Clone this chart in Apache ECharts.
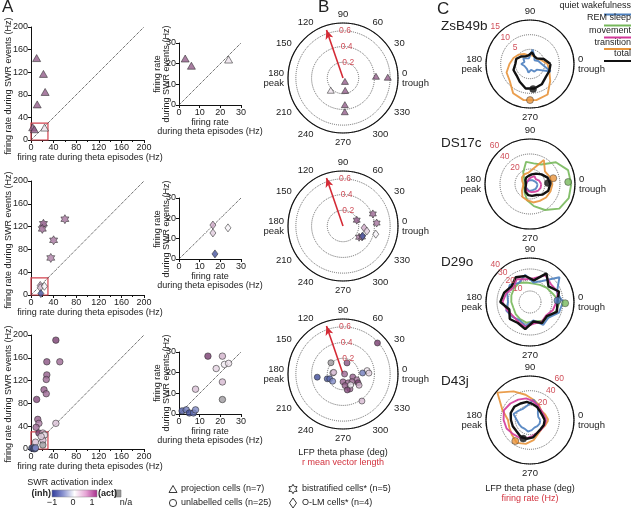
<!DOCTYPE html>
<html><head><meta charset="utf-8">
<script src="https://cdn.jsdelivr.net/npm/echarts@6/dist/echarts.min.js"></script>
<style>html,body{margin:0;padding:0;background:#fff}#c{width:632px;height:510px}</style>
</head><body><div id="c"></div>
<script>
// ---------------- DATA ----------------
// Panel A/B : projection cells (triangles)
const projTheta = [10, 22, 25, 11, 3, 6, 24];
const projSWR   = [145, 117, 85, 63, 22.5, 19, 22];
const projAct   = [0.8, 0.8, 0.8, 0.8, 0.8, 0.8, 0.1];
const projR     = [0.05, 0.16, 0.34, 0.43, 0.42, 0.57, 0.22];
const projPhase = [300, 280, 274, 273, 3, 1, 225];
// bistratified cells (stars)
const bisTheta = [22, 20, 60, 40, 35];
const bisSWR   = [125, 116, 133, 96, 65];
const bisAct   = [0.85, 0.75, 0.7, 0.7, 0.65];
const bisR     = [0.19, 0.41, 0.43, 0.25, 0.28];
const bisPhase = [23, 22, 5, 325, 330];
// O-LM cells (diamonds)
const olmTheta = [16.4, 16.4, 23.7, 17.4];
const olmSWR   = [16.7, 12.8, 15.3, 2.5];
const olmAct   = [0.45, 0.25, 0.0, -0.85];
const olmR     = [0.27, 0.31, 0.43, 0.28];
const olmPhase = [355, 348, 346, 333];
// unlabelled cells (circles)
const unlTheta = [44, 51, 28, 28, 27, 23, 27, 10, 12, 14, 9, 44, 14, 21, 22, 24, 21, 21, 8, 1.5, 3.5, 5, 7, 8, 18];
const unlSWR   = [191, 153, 153, 130, 122, 104, 97, 87, 52, 45, 38, 45, 28, 28, 24, 24.5, 15.5, 7, 12, 1.5, 2, 0.5, 0.5, 2, 22];
const unlAct   = [0.95, 0.75, 0.85, 0.8, 0.75, 0.8, 0.75, 0.9, 0.8, 0.65, 0.75, 0.3, 0.95, 0.4, 0.05, 0.1, 0.35, null, 0.3, -0.8, -0.6, -0.9, -0.7, -0.5, 0.2];
const unlR     = [0.59, 0.02, 0.15, 0.10, 0.13, 0.15, 0.21, 0.21, 0.13, 0.19, 0.15, 0.13, 0.22, 0.25, 0.17, 0.31, 0.42, 0.21, 0.12, 0.21, 0.25, 0.33, 0.18, 0.16, 0.33];
const unlPhase = [42, 0, 70, 270, 300, 280, 295, 285, 343, 337, 320, 174, 330, 325, 305, 8, 305, 137, 170, 197, 3, 187, 200, 215, 2];
// mean vectors (panel B)
const vecLen   = [0.70, 0.70, 0.70];
const vecPhase = [109, 109, 109];
// Panel C : phase bins (deg)
const cPhase = [0, 20, 40, 60, 80, 100, 120, 140, 160, 180, 200, 220, 240, 260, 280, 300, 320, 340];
// ZsB49b
const zsbQuiet = [4, 3, 2, 3, 5, 2, 2, 3, 2, 3, 2, 2, 2, 3, 2, 3, 3, 7.5];
const zsbTrans = [6, 4, 3, 3, 3, 3, 4, 5, 6, 7, 8.5, 9, 11.5, 12.5, 12.5, 12, 9, 7];
const zsbTotal = [7, 5, 3, 3, 4, 3, 3, 4, 5, 5, 6, 6, 7, 8.5, 8.5, 8, 7, 7];
const zsbDotState = ['trans', 'total'];
const zsbDotR = [12.3, 8.6];
const zsbDotPhase = [270, 277];
// DS17c
const dsQuiet = [10, 8, 7, 6, 6, 5, 5, 5, 5, 5, 6, 7, 8, 9, 9, 9, 10, 10];
const dsRem   = [55, 54, 45, 30, 28, 30, 18, 10, 8, 8, 9, 10, 14, 22, 30, 40, 51, 55];
const dsMove  = [15, 13, 10, 12, 9, 7, 6, 5, 5, 5, 6, 7, 9, 10, 11, 12, 14, 15];
const dsTrans = [30, 28, 26, 37, 20, 15, 15, 14, 11, 9, 10, 14, 20, 22, 25, 26, 28, 29];
const dsTotal = [27, 25, 20, 16, 13, 11, 10, 8, 6, 5, 6, 8, 12, 15, 16, 17, 22, 26];
const dsDotState = ['rem', 'trans', 'total'];
const dsDotR = [51, 32, 24];
const dsDotPhase = [3, 14, 3];
// D29o
const d29Quiet = [30, 26, 35, 22, 18, 25, 20, 24, 22, 20, 23, 21, 19, 22, 17, 24, 22, 28];
const d29Rem   = [27, 22, 20, 18, 17, 18, 20, 19, 18, 17, 16, 17, 18, 19, 18, 20, 22, 25];
const d29Move  = [24, 27, 25, 28, 22, 21, 24, 20, 23, 25, 22, 20, 21, 23, 20, 21, 19, 22];
const d29Total = [25, 28, 22, 30, 20, 24, 26, 22, 25, 27, 20, 24, 22, 25, 18, 22, 20, 26];
const d29DotState = ['rem', 'quiet'];
const d29DotR = [32, 25];
const d29DotPhase = [358, 3];
// D43j
const d43Quiet = [14, 12, 14, 22, 28, 20, 18, 20, 24, 18, 16, 15, 14, 16, 14, 12, 13, 14];
const d43Move  = [22, 20, 20, 22, 26, 30, 32, 35, 38, 36, 34, 30, 28, 25, 22, 20, 20, 21];
const d43Trans = [25, 22, 20, 24, 28, 35, 45, 58, 40, 30, 30, 32, 36, 33, 28, 22, 20, 22];
const d43Total = [20, 18, 18, 20, 22, 25, 26, 28, 28, 26, 25, 24, 26, 26, 24, 20, 19, 20];
const d43DotState = ['trans', 'total'];
const d43DotR = [35, 27];
const d43DotPhase = [235, 250];
// axis scales
const cMax  = [15, 60, 40, 60];
const cStep = [5, 20, 10, 20];
const cNames = ['ZsB49b', 'DS17c', 'D29o', 'D43j'];

// ---------------- STYLE ----------------
const FONT = '"Liberation Sans", Arial, Helvetica, sans-serif';
const stateColor = {quiet:'#4d80bf', rem:'#77b85b', move:'#d2399a', trans:'#e8943b', total:'#111111'};
const stateName = {quiet:'quiet wakefulness', rem:'REM sleep', move:'movement', trans:'transition', total:'total'};
function lerp(a,b,t){return a+(b-a)*t;}
const cmap = [[-1,[44,58,140]],[-0.5,[128,138,198]],[0,[246,243,247]],[0.5,[200,160,192]],[1,[112,50,104]]];
function actColor(a){
  if(a===null || a===undefined) return '#9d9a9f';
  for(let i=0;i<cmap.length-1;i++){
    if(a<=cmap[i+1][0]){
      const t=(a-cmap[i][0])/(cmap[i+1][0]-cmap[i][0]);
      const c=cmap[i][1].map((v,k)=>Math.round(lerp(v,cmap[i+1][1][k],t)));
      return 'rgb('+c.join(',')+')';
    }
  }
  return 'rgb(112,50,104)';
}
function hexPath(){
  let p='';
  for(let k=0;k<12;k++){const a=(-90+k*30)*Math.PI/180; const r=(k%2?0.5774:1)*10;
    p+=(k?'L':'M')+(Math.cos(a)*r).toFixed(2)+','+(Math.sin(a)*r).toFixed(2);}
  return 'path://'+p+'Z';
}
const STAR = hexPath();

const chart = echarts.init(document.getElementById('c'));

const grids = [
  {left:31, top:27, width:113, height:113},
  {left:179, top:43, width:62, height:62},
  {left:31, top:181, width:113, height:114},
  {left:179, top:198, width:62, height:61},
  {left:31, top:335, width:113, height:114},
  {left:179, top:352, width:62, height:62}
].map(g=>Object.assign({outerBoundsMode:'none', containLabel:false, show:false}, g));

function cartAxis(gi, max, step, minor){
  return {type:'value', gridIndex:gi, min:0, max:max, interval:step,
    axisLine:{show:true, onZero:false, lineStyle:{color:'#111', width:1}},
    axisTick:{show:true, length:3, lineStyle:{color:'#111'}},
    minorTick:{show:minor, splitNumber:2, length:2, lineStyle:{color:'#111'}},
    splitLine:{show:false}, minorSplitLine:{show:false},
    axisLabel:{fontSize:9, color:'#222', margin:3, fontFamily:FONT}};
}
const xAxes=[], yAxes=[];
for(let i=0;i<6;i++){
  const main = i%2===0;
  xAxes.push(cartAxis(i, main?200:30, main?40:10, main));
  yAxes.push(cartAxis(i, main?200:30, main?40:10, false));
}

function items(xs, ys, acts){ return xs.map((x,i)=>({value:[x,ys[i]], itemStyle:{color:actColor(acts[i])}})); }
function pitems(rs, ph, acts){ return rs.map((r,i)=>({value:[r,ph[i]], itemStyle:{color:actColor(acts[i])}})); }

const series = [];
// diagonals + red boxes
for(let i=0;i<6;i++){
  const main = i%2===0, m = main?200:30;
  const s = {type:'line', xAxisIndex:i, yAxisIndex:i, data:[[0,0],[m,m]], symbol:'none', silent:true,
    lineStyle:{type:'dotted', color:'#333', width:1}, z:1};
  if(main){
    s.markArea = {silent:true, itemStyle:{color:'rgba(0,0,0,0)', borderColor:'#d2424f', borderWidth:1.2},
      data:[[{coord:[0,0]},{coord:[30,30]}]]};
  }
  series.push(s);
}
const scatBase = {type:'scatter', clip:true, itemStyle:{borderColor:'#2a2a2a', borderWidth:0.7}, z:3, silent:true};
function addCart(gi, xs, ys, acts, symbol, size){
  series.push(Object.assign({}, scatBase, {xAxisIndex:gi, yAxisIndex:gi, symbol, symbolSize:size, data:items(xs,ys,acts)}));
}
[0,1].forEach(g=>addCart(g, projTheta, projSWR, projAct, 'triangle', [8,7]));
[2,3].forEach(g=>{addCart(g, bisTheta, bisSWR, bisAct, STAR, [8,9]); addCart(g, olmTheta, olmSWR, olmAct, 'diamond', [6,8]);});
[4,5].forEach(g=>addCart(g, unlTheta, unlSWR, unlAct, 'circle', 6.5));

// polar components
const polars = [
  {center:[343,78], radius:55}, {center:[343,226], radius:55}, {center:[343,374], radius:55},
  {center:[530,64], radius:44}, {center:[530,184], radius:45}, {center:[530,302], radius:44}, {center:[530,420], radius:44}
];
const angleAxes=[], radiusAxes=[];
polars.forEach((p,i)=>{
  const isB = i<3;
  angleAxes.push({polarIndex:i, type:'value', min:0, max:360, interval:isB?30:90, startAngle:0, clockwise:false,
    axisLine:{show:true, lineStyle:{color:'#111', width:1.2}}, axisTick:{show:false}, splitLine:{show:false}, splitArea:{show:false},
    axisLabel:{margin:4, fontSize:9.5, color:'#222', fontFamily:FONT, lineHeight:10,
      formatter:v=> v===0?'0\ntrough': v===180?'180\npeak': v===360?'':String(v)}});
  radiusAxes.push({polarIndex:i, type:'value', min:0, max:isB?0.7:cMax[i-3], interval:isB?0.2:cStep[i-3],
    axisLine:{show:false}, axisTick:{show:false}, axisLabel:{show:false}, splitArea:{show:false},
    splitLine:{show:true, lineStyle:{type:'dotted', color:'#666', width:1}}});
});
// B arrows
for(let i=0;i<3;i++){
  series.push({type:'line', coordinateSystem:'polar', polarIndex:i, silent:true, z:2,
    data:[[0,vecPhase[i]],[vecLen[i]-0.055,vecPhase[i]]],
    symbol:(v,p)=>p.dataIndex===1?'arrow':'none', symbolSize:[6,9], symbolRotate:vecPhase[i]-90, showSymbol:true,
    lineStyle:{color:'#d42a35', width:1.6}, itemStyle:{color:'#d42a35'}});
}
function addPolar(pi, rs, ph, acts, symbol, size){
  series.push(Object.assign({}, scatBase, {coordinateSystem:'polar', polarIndex:pi, symbol, symbolSize:size, data:pitems(rs,ph,acts)}));
}
addPolar(0, projR, projPhase, projAct, 'triangle', [7,6]);
addPolar(1, bisR, bisPhase, bisAct, STAR, [7,8]);
addPolar(1, olmR, olmPhase, olmAct, 'diamond', [6,8]);
addPolar(2, unlR, unlPhase, unlAct, 'circle', 6);

// C curves
const cCells = [
  {lines:{trans:zsbTrans, quiet:zsbQuiet, total:zsbTotal}, ds:zsbDotState, dr:zsbDotR, dp:zsbDotPhase},
  {lines:{rem:dsRem, trans:dsTrans, quiet:dsQuiet, move:dsMove, total:dsTotal}, ds:dsDotState, dr:dsDotR, dp:dsDotPhase},
  {lines:{rem:d29Rem, quiet:d29Quiet, move:d29Move, total:d29Total}, ds:d29DotState, dr:d29DotR, dp:d29DotPhase},
  {lines:{trans:d43Trans, quiet:d43Quiet, move:d43Move, total:d43Total}, ds:d43DotState, dr:d43DotR, dp:d43DotPhase}
];
const order = ['rem','trans','quiet','move','total'];
cCells.forEach((c,k)=>{
  const pi = 3+k;
  order.forEach((st,j)=>{
    const v = c.lines[st]; if(!v) return;
    const d = v.map((r,i)=>[r,cPhase[i]]); d.push([v[0],cPhase[0]]);
    series.push({type:'line', coordinateSystem:'polar', polarIndex:pi, data:d, symbol:'none', silent:true, z:3+j*0.1,
      lineStyle:{color:stateColor[st], width:st==='total'?2.4:1.9, opacity:st==='total'?1:0.9}});
  });
  series.push({type:'scatter', coordinateSystem:'polar', polarIndex:pi, silent:true, z:5, symbolSize:7,
    data:c.ds.map((st,i)=>({value:[c.dr[i],c.dp[i]], itemStyle:{color:stateColor[st]}})),
    itemStyle:{borderColor:'#333', borderWidth:0.6}});
});

// ---------------- GRAPHIC TEXT ----------------
function txt(x,y,text,o){
  o=o||{};
  const st = {text, fill:o.color||'#222', font:(o.weight||'normal')+' '+(o.size||9)+'px '+FONT,
    align:o.align||'center', verticalAlign:o.va||'middle', textAlign:o.align||'center', textVerticalAlign:o.va||'middle',
    lineHeight:o.lh||10};
  return {type:'text', x, y, rotation:o.rot||0, style:st, silent:true, z:10};
}
const R90 = Math.PI/2;
const G = [];
G.push(txt(2,2,'A',{size:17,align:'left',va:'top'}));
G.push(txt(318,2,'B',{size:17,align:'left',va:'top'}));
G.push(txt(437,4,'C',{size:17,align:'left',va:'top'}));
[[86,158,74,127],[240,313,229,281],[394,467,383,436]].forEach(a=>{
  G.push(txt(9,a[0],'firing rate during SWR events (Hz)',{rot:R90}));
  G.push(txt(90,a[1],'firing rate during theta episodes (Hz)'));
  G.push(txt(162,a[2],'firing rate\nduring SWR events (Hz)',{rot:R90,lh:9}));
  G.push(txt(210,a[3],'firing rate\nduring theta episodes (Hz)',{lh:9}));
});
G.push(txt(343,453,'LFP theta phase (deg)'));
G.push(txt(343,463,'r mean vector length',{color:'#d2323e'}));
G.push(txt(530,489,'LFP theta phase (deg)'));
G.push(txt(530,499,'firing rate (Hz)',{color:'#d2323e'}));
[26,143,262,381].forEach((y,i)=>G.push(txt(441,y,cNames[i],{size:13.5,align:'left'})));
// C legend
const legStates = ['quiet','rem','move','trans','total'];
const legTy = [6,18,31,43,54], legLy = [14.5,25.5,37.5,49,61];
legStates.forEach((s,i)=>{
  G.push(txt(631,legTy[i],stateName[s],{size:9,align:'right'}));
  G.push({type:'line', shape:{x1:604,y1:legLy[i],x2:631,y2:legLy[i]}, style:{stroke:stateColor[s], lineWidth:2}, silent:true});
});
// colour bar
G.push(txt(70,483,'SWR activation index'));
G.push({type:'rect', shape:{x:52,y:490,width:45,height:7}, silent:true,
  style:{fill:new echarts.graphic.LinearGradient(0,0,1,0,[
    {offset:0,color:'#2e3a9a'},{offset:0.25,color:'#8a93d0'},{offset:0.5,color:'#ffffff'},{offset:0.75,color:'#e6a5d5'},{offset:1,color:'#a82d8c'}]),
    stroke:'#888', lineWidth:0.5}});
G.push({type:'rect', shape:{x:115,y:490,width:6,height:7}, silent:true, style:{fill:'#999', stroke:'#666', lineWidth:0.5}});
G.push(txt(51,494,'(inh)',{align:'right',weight:'bold'}));
G.push(txt(98,494,'(act)',{align:'left',weight:'bold'}));
G.push(txt(52,503,'\u22121')); G.push(txt(73,503,'0')); G.push(txt(92,503,'1')); G.push(txt(126,503,'n/a'));
// shape legend
const hollow = {fill:'#fff', stroke:'#222', lineWidth:0.9};
G.push({type:'polygon', shape:{points:[[173,485.5],[169,492.5],[177,492.5]]}, style:hollow, silent:true});
G.push({type:'circle', shape:{cx:173,cy:503,r:3.6}, style:hollow, silent:true});
const starPts=[]; for(let k=0;k<12;k++){const a=(-90+k*30)*Math.PI/180; const r=k%2?2.7:4.7; starPts.push([293+Math.cos(a)*r,489+Math.sin(a)*r]);}
G.push({type:'polygon', shape:{points:starPts}, style:hollow, silent:true});
G.push({type:'polygon', shape:{points:[[293,498],[296.5,503],[293,508],[289.5,503]]}, style:hollow, silent:true});
G.push(txt(181,489,'projection cells (n=7)',{align:'left'}));
G.push(txt(181,503,'unlabelled cells (n=25)',{align:'left'}));
G.push(txt(302,489,'bistratified cells* (n=5)',{align:'left'}));
G.push(txt(302,503,'O-LM cells* (n=4)',{align:'left'}));

const option = {
  animation:false, backgroundColor:'#fff', textStyle:{fontFamily:FONT},
  grid:grids, xAxis:xAxes, yAxis:yAxes,
  polar:polars, angleAxis:angleAxes, radiusAxis:radiusAxes,
  series, graphic:G
};
chart.setOption(option);

// radial scale labels (red), positioned via polar scales
const G2 = G.slice();
for(let i=0;i<3;i++){
  [0.2,0.4,0.6].forEach(r=>{
    const p = chart.convertToPixel({polarIndex:i},[r,96]);
    G2.push(txt(p[0]+1,p[1],r.toFixed(1),{align:'left',color:'#d0505a',size:8.5}));
  });
}
const cLabAng = [133,133,133,55];
for(let k=0;k<4;k++){
  const vals=[]; for(let v=cStep[k]; v<=cMax[k]+1e-9; v+=cStep[k]) vals.push(v);
  const a = cLabAng[k]*Math.PI/180;
  vals.forEach(v=>{
    const p = chart.convertToPixel({polarIndex:3+k},[v,cLabAng[k]]);
    G2.push(txt(p[0]+Math.cos(a)*7,p[1]-Math.sin(a)*7,String(v),{color:'#d0505a',size:8.5}));
  });
}
chart.setOption({graphic:G2});
</script></body></html>
